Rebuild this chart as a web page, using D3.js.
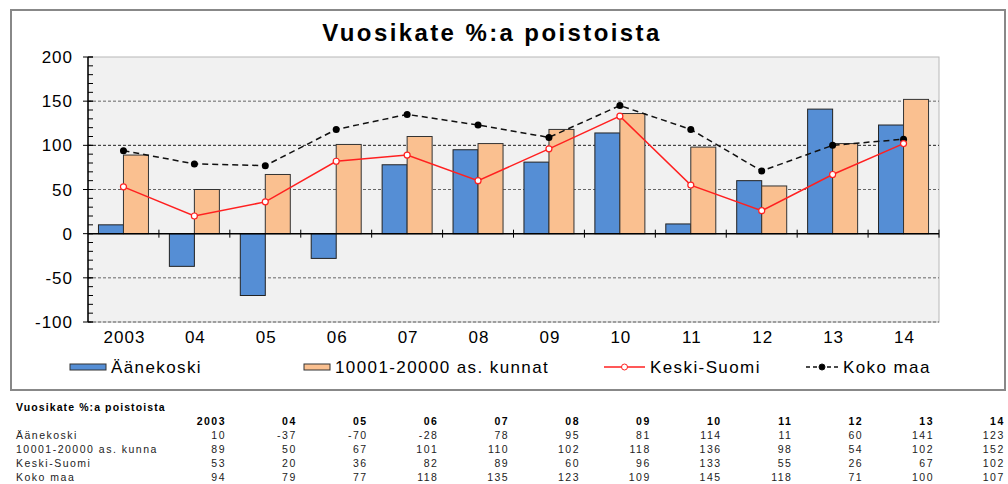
<!DOCTYPE html>
<html>
<head>
<meta charset="utf-8">
<script src="https://cdn.jsdelivr.net/npm/d3@7"></script>
<style>
  body { margin: 0; background: #fff; }
  svg { display: block; font-family: "Liberation Sans", Arial, sans-serif; }
</style>
</head>
<body>
<svg id="chart" width="1008" height="484"></svg>
<script>
const years = ['2003', '04', '05', '06', '07', '08', '09', '10', '11', '12', '13', '14'];
const aanekoski = [10, -37, -70, -28, 78, 95, 81, 114, 11, 60, 141, 123];
const kunnat = [89, 50, 67, 101, 110, 102, 118, 136, 98, 54, 102, 152];
const keskiSuomi = [53, 20, 36, 82, 89, 60, 96, 133, 55, 26, 67, 102];
const kokoMaa = [94, 79, 77, 118, 135, 123, 109, 145, 118, 71, 100, 107];
const yTicks = [-100, -50, 0, 50, 100, 150, 200];
const title = 'Vuosikate %:a poistoista';
const rowNames = ['Äänekoski', '10001-20000 as. kunnat', 'Keski-Suomi', 'Koko maa'];

const svg = d3.select('#chart');

// outer frame
svg.append('rect')
    .attr('x', 11).attr('y', 10).attr('width', 994).attr('height', 380)
    .attr('fill', '#fff').attr('stroke', '#888').attr('stroke-width', 2);

svg.append('text')
    .attr('x', 492).attr('y', 41)
    .attr('text-anchor', 'middle')
    .attr('font-size', 24).attr('font-weight', 'bold')
    .attr('letter-spacing', 2.4)
    .text(title);

const plot = { left: 88, right: 939, top: 57, bottom: 322 };

const x = d3.scaleBand()
    .domain(years)
    .range([plot.left, plot.right]);

const y = d3.scaleLinear()
    .domain([-100, 200])
    .range([plot.bottom, plot.top]);

svg.append('rect')
    .attr('x', plot.left).attr('y', plot.top)
    .attr('width', plot.right - plot.left).attr('height', plot.bottom - plot.top)
    .attr('fill', '#f1f1f1').attr('stroke', '#b8b8b8');

// grid lines
svg.append('g')
    .selectAll('line')
    .data(yTicks.filter(d => d !== 0 && d !== 200))
    .enter().append('line')
    .attr('x1', plot.left).attr('x2', plot.right)
    .attr('y1', d => y(d)).attr('y2', d => y(d))
    .attr('stroke', d => d === 100 ? '#222' : '#666')
    .attr('stroke-dasharray', '3,2');

// bars
const barW = 25;
svg.append('g')
    .selectAll('rect')
    .data(aanekoski)
    .enter().append('rect')
    .attr('x', (d, i) => x(years[i]) + x.bandwidth() / 2 - barW)
    .attr('y', d => y(Math.max(0, d)))
    .attr('width', barW)
    .attr('height', d => Math.abs(y(d) - y(0)))
    .attr('fill', '#558ed5').attr('stroke', '#222');

svg.append('g')
    .selectAll('rect')
    .data(kunnat)
    .enter().append('rect')
    .attr('x', (d, i) => x(years[i]) + x.bandwidth() / 2)
    .attr('y', d => y(Math.max(0, d)))
    .attr('width', barW)
    .attr('height', d => Math.abs(y(d) - y(0)))
    .attr('fill', '#fac090').attr('stroke', '#333');

// y axis with minor ticks
const yAxis = svg.append('g').attr('transform', `translate(${plot.left},0)`);
yAxis.append('line')
    .attr('x1', 0).attr('x2', 0).attr('y1', plot.top).attr('y2', plot.bottom)
    .attr('stroke', '#000').attr('stroke-width', 1.5);
yAxis.selectAll('.minor')
    .data(d3.range(-100, 201, 10))
    .enter().append('line')
    .attr('x1', 0).attr('x2', 5)
    .attr('y1', d => y(d)).attr('y2', d => y(d))
    .attr('stroke', '#000');
yAxis.selectAll('.major')
    .data(yTicks)
    .enter().append('line')
    .attr('x1', -5).attr('x2', 5)
    .attr('y1', d => y(d)).attr('y2', d => y(d))
    .attr('stroke', '#000');
yAxis.selectAll('text')
    .data(yTicks)
    .enter().append('text')
    .attr('x', -15).attr('y', d => y(d) + 6)
    .attr('text-anchor', 'end')
    .attr('font-size', 17).attr('letter-spacing', 1)
    .text(d => d);

// zero line with category ticks
svg.append('line')
    .attr('x1', plot.left).attr('x2', plot.right)
    .attr('y1', y(0)).attr('y2', y(0))
    .attr('stroke', '#000').attr('stroke-width', 1.5);
svg.append('g')
    .selectAll('line')
    .data(years.slice(1).concat(['end']))
    .enter().append('line')
    .attr('x1', d => d === 'end' ? plot.right : x(d))
    .attr('x2', d => d === 'end' ? plot.right : x(d))
    .attr('y1', y(0) - 4).attr('y2', y(0) + 4)
    .attr('stroke', '#000');

svg.append('g')
    .selectAll('text')
    .data(years)
    .enter().append('text')
    .attr('x', d => x(d) + x.bandwidth() / 2 + 1)
    .attr('y', plot.bottom + 21)
    .attr('text-anchor', 'middle')
    .attr('font-size', 17).attr('letter-spacing', 1)
    .text(d => d);

// lines
const lineGen = d3.line()
    .x((d, i) => x(years[i]) + x.bandwidth() / 2)
    .y(d => y(d));

svg.append('path')
    .datum(kokoMaa)
    .attr('d', lineGen)
    .attr('fill', 'none').attr('stroke', '#111')
    .attr('stroke-width', 1.5).attr('stroke-dasharray', '6,4');
svg.append('g')
    .selectAll('circle')
    .data(kokoMaa)
    .enter().append('circle')
    .attr('cx', (d, i) => x(years[i]) + x.bandwidth() / 2)
    .attr('cy', d => y(d))
    .attr('r', 3.5).attr('fill', '#000');

svg.append('path')
    .datum(keskiSuomi)
    .attr('d', lineGen)
    .attr('fill', 'none').attr('stroke', '#ff2020').attr('stroke-width', 1.5);
svg.append('g')
    .selectAll('circle')
    .data(keskiSuomi)
    .enter().append('circle')
    .attr('cx', (d, i) => x(years[i]) + x.bandwidth() / 2)
    .attr('cy', d => y(d))
    .attr('r', 3).attr('fill', '#fff').attr('stroke', '#ff2020').attr('stroke-width', 1.2);

// legend
const legY = 367;
const leg = svg.append('g').attr('font-size', 17).attr('letter-spacing', 1.4);
const legItems = [
    { x: 70, w: 36, name: rowNames[0], type: 'bar', color: '#558ed5' },
    { x: 304, w: 26, name: rowNames[1], type: 'bar', color: '#fac090' },
    { x: 604, w: 41, name: rowNames[2], type: 'red' },
    { x: 806, w: 32, name: rowNames[3], type: 'black' }
];
legItems.forEach(it => {
    if (it.type === 'bar') {
        leg.append('rect')
            .attr('x', it.x).attr('y', legY - 3).attr('width', it.w).attr('height', 6)
            .attr('fill', it.color).attr('stroke', '#333');
    } else {
        const col = it.type === 'red' ? '#ff2020' : '#111';
        leg.append('line')
            .attr('x1', it.x).attr('x2', it.x + it.w)
            .attr('y1', legY).attr('y2', legY)
            .attr('stroke', col).attr('stroke-width', 1.5)
            .attr('stroke-dasharray', it.type === 'black' ? '4,3' : null);
        leg.append('circle')
            .attr('cx', it.x + it.w / 2).attr('cy', legY).attr('r', 3)
            .attr('fill', it.type === 'red' ? '#fff' : '#000')
            .attr('stroke', col);
    }
    leg.append('text').attr('x', it.x + it.w + 5).attr('y', legY + 6).text(it.name);
});

// data table under the chart
const table = svg.append('g').attr('font-size', 10.5).attr('letter-spacing', 1.5);
table.append('text')
    .attr('x', 16).attr('y', 411)
    .attr('font-weight', 'bold').attr('letter-spacing', 1.1)
    .text(title);
const colX = i => 226 + i * 70.8;
table.selectAll('.hdr')
    .data(years)
    .enter().append('text')
    .attr('x', (d, i) => colX(i)).attr('y', 425)
    .attr('text-anchor', 'end').attr('font-weight', 'bold')
    .text(d => d);
const rows = [aanekoski, kunnat, keskiSuomi, kokoMaa];
const labels = ['Äänekoski', '10001-20000 as. kunna', 'Keski-Suomi', 'Koko maa'];
rows.forEach((row, r) => {
    const ry = 439 + r * 14;
    table.append('text').attr('x', 16).attr('y', ry).attr('fill', '#222').text(labels[r]);
    table.selectAll('.r' + r)
        .data(row)
        .enter().append('text')
        .attr('x', (d, i) => colX(i)).attr('y', ry)
        .attr('text-anchor', 'end').attr('fill', '#222')
        .text(d => d);
});
</script>
</body>
</html>
